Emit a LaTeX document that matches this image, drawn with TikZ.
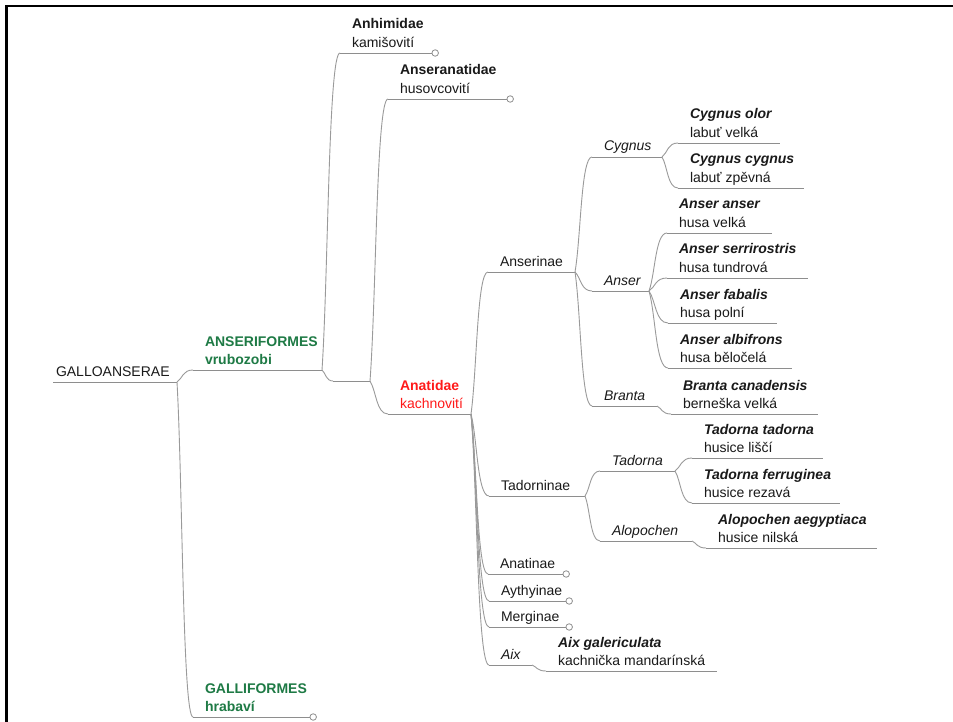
\documentclass[tikz,border=0pt]{standalone}
\usepackage{fontspec}
\setmainfont{Liberation Sans}
\usetikzlibrary{calc}
\definecolor{lnc}{HTML}{9A9A9A}
\definecolor{ulc}{HTML}{8E8E8E}
\definecolor{grn}{HTML}{1E7A45}
\definecolor{txt}{HTML}{1A1A1A}
\definecolor{redt}{HTML}{FF1A1A}
\tikzset{
 lbl/.style={inner sep=0pt, outer sep=0pt, anchor=base west, text=txt, font=\fontsize{14}{16}\selectfont},
 conn/.style={draw=lnc, line width=0.9pt},
 uline/.style={draw=ulc, line width=0.9pt},
 knob/.style={circle, draw=ulc, fill=white, line width=0.8pt, minimum size=6.5pt, inner sep=0pt},
}
\newcommand\lnk[2]{\draw[conn] let \p1=(#1), \p2=(#2) in (\p1) .. controls ({\x1+0.35*(\x2-\x1)},{\y1+0.3*(\y2-\y1)}) and ({\x1+0.35*(\x2-\x1)},{\y2}) .. (\p2);}
\newcommand\topicii[6]{%
 \coordinate (#1S) at ({#2-12},#3);
 \coordinate (#1E) at (#4,#3);
 \draw[uline] (#1S) -- (#1E);
 \node[lbl] (#1) at (#2,{#3-24}) {#5};
 \node[lbl] (#1b) at (#2,{#3-5.5}) {#6};}
\newcommand\topici[5]{%
 \coordinate (#1S) at ({#2-12},#3);
 \coordinate (#1E) at (#4,#3);
 \draw[uline] (#1S) -- (#1E);
 \node[lbl] (#1) at (#2,{#3-6}) {#5};}
\newcommand\knobat[1]{\node[knob] (#1K) at ($(#1E)+(3.2,0)$) {};}
\begin{document}
\begin{tikzpicture}[x=1pt,y=-1pt]
\useasboundingbox (0,0) rectangle (953,722);
\fill[white] (0,0) rectangle (953,722);
\draw[line width=2.5pt] (6.25,722) -- (6.25,6.25) -- (953,6.25);

% root
\coordinate (rootS) at (53,382);
\coordinate (rootE) at (177,382);
\draw[uline] (rootS) -- (rootE);
\node[lbl] (root) at (56,376) {GALLOANSERAE};

% orders
\topicii{anseri}{205}{370}{322}{\textcolor{grn}{\textbf{ANSERIFORMES}}}{\textcolor{grn}{\textbf{vrubozobi}}}
\topicii{galli}{205}{717}{310}{\textcolor{grn}{\textbf{GALLIFORMES}}}{\textcolor{grn}{\textbf{hrabaví}}}

% families
\topicii{anh}{352}{53}{432}{\textbf{Anhimidae}}{kamišovití}
\coordinate (anseroS) at (333,381);
\coordinate (anseroE) at (370,381);
\draw[uline] (anseroS) -- (anseroE);
\topicii{anseran}{400}{99}{507}{\textbf{Anseranatidae}}{husovcovití}
\topicii{anat}{400}{414}{471}{\textcolor{redt}{\textbf{Anatidae}}}{\textcolor{redt}{kachnovití}}

% subfamilies
\topici{anserin}{500}{272}{575}{Anserinae}
\topici{tadornin}{501}{496}{585}{Tadorninae}
\topici{anatin}{500}{574}{563}{Anatinae}
\topici{aythy}{501}{601}{566}{Aythyinae}
\topici{merg}{501}{627}{566}{Merginae}
\topici{aix}{501}{665}{532}{\textit{Aix}}

% genera
\topici{cyg}{604}{157}{662}{\textit{Cygnus}}
\topici{anser}{604}{291}{649}{\textit{Anser}}
\topici{branta}{604}{406}{657}{\textit{Branta}}
\topici{tad}{612}{471}{675}{\textit{Tadorna}}
\topici{alop}{612}{541}{692}{\textit{Alopochen}}

% species
\topicii{color}{690}{143}{780}{\textbf{\textit{Cygnus olor}}}{labuť velká}
\topicii{ccyg}{690}{188}{804}{\textbf{\textit{Cygnus cygnus}}}{labuť zpěvná}
\topicii{aanser}{679}{233}{772}{\textbf{\textit{Anser anser}}}{husa velká}
\topicii{aserr}{679}{278}{808}{\textbf{\textit{Anser serrirostris}}}{husa tundrová}
\topicii{afab}{680}{323}{777}{\textbf{\textit{Anser fabalis}}}{husa polní}
\topicii{aalb}{680}{368}{792}{\textbf{\textit{Anser albifrons}}}{husa běločelá}
\topicii{bcan}{683}{414}{818}{\textbf{\textit{Branta canadensis}}}{berneška velká}
\topicii{ttad}{704}{458}{823}{\textbf{\textit{Tadorna tadorna}}}{husice liščí}
\topicii{tfer}{704}{503}{840}{\textbf{\textit{Tadorna ferruginea}}}{husice rezavá}
\topicii{aaeg}{718}{548}{877}{\textbf{\textit{Alopochen aegyptiaca}}}{husice nilská}
\topicii{agal}{558}{671}{717}{\textbf{\textit{Aix galericulata}}}{kachnička mandarínská}

% connectors
\lnk{rootE}{anseriS}
\lnk{rootE}{galliS}
\lnk{anseriE}{anhS}
\lnk{anseriE}{anseroS}
\lnk{anseroE}{anseranS}
\lnk{anseroE}{anatS}
\lnk{anatE}{anserinS}
\lnk{anatE}{tadorninS}
\lnk{anatE}{anatinS}
\lnk{anatE}{aythyS}
\lnk{anatE}{mergS}
\lnk{anatE}{aixS}
\lnk{anserinE}{cygS}
\lnk{anserinE}{anserS}
\lnk{anserinE}{brantaS}
\lnk{cygE}{colorS}
\lnk{cygE}{ccygS}
\lnk{anserE}{aanserS}
\lnk{anserE}{aserrS}
\lnk{anserE}{afabS}
\lnk{anserE}{aalbS}
\lnk{brantaE}{bcanS}
\lnk{tadorninE}{tadS}
\lnk{tadorninE}{alopS}
\lnk{tadE}{ttadS}
\lnk{tadE}{tferS}
\lnk{alopE}{aaegS}
\lnk{aixE}{agalS}

% collapsed markers
\knobat{anh}
\knobat{anseran}
\knobat{galli}
\knobat{anatin}
\knobat{aythy}
\knobat{merg}
\end{tikzpicture}
\end{document}
